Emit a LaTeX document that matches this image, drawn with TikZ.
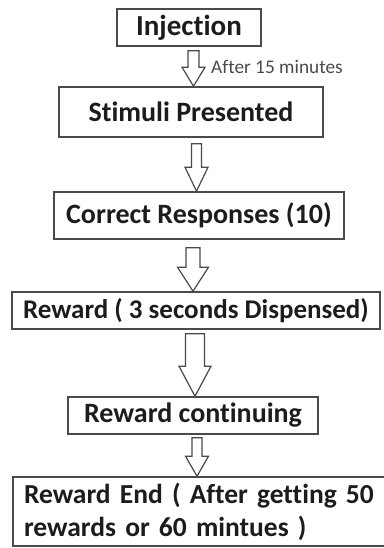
\documentclass[tikz,border=0pt]{standalone}
\usepackage{fontspec}
\setmainfont{Carlito}[RawFeature=-liga]
\usetikzlibrary{positioning,calc}

\definecolor{edgegray}{HTML}{4A4A4A}
\definecolor{inkdark}{HTML}{1C1C1C}

\begin{document}
\begin{tikzpicture}[
	node distance=90pt,
	on grid,
	x=1pt, y=1pt,
	box/.style={
		draw=edgegray,
		line width=1.6pt,
		inner sep=0pt,
		text=inkdark,
		font=\bfseries\fontsize{28}{33}\selectfont
	},
	note/.style={
		inner sep=0pt,
		text=edgegray,
		font=\fontsize{19.3}{22}\selectfont
	},
	hollow/.style args={#1/#2/#3}{
		draw=edgegray,
		line width=1.2pt,
		line join=miter,
		to path={
			let \p1=(\tikztostart), \p2=(\tikztotarget) in
			(\x2-#1,\y1) -- (\x2-#1,\y2+#3) -- (\x2-#2,\y2+#3) -- (\x2,\y2)
			-- (\x2+#2,\y2+#3) -- (\x2+#1,\y2+#3) -- (\x2+#1,\y1) -- cycle}
	}]

	\useasboundingbox (0,0) rectangle (383,-548);

	% the six steps, top to bottom
	\node[box, minimum width=144pt, minimum height=37pt, font=\bfseries\fontsize{29}{32}\selectfont] (inj) at (189,-27.5) {Injection};
	\node[box, below=84.5pt of inj, xshift=2pt, minimum width=264pt, minimum height=50pt] (stim) {Stimuli Presented};
	\node[box, below=103.5pt of stim, xshift=8pt, minimum width=290pt, minimum height=47pt] (resp) {Correct Responses (10)};
	\node[box, below=95pt of resp, xshift=-3pt, minimum width=368pt, minimum height=37pt, font=\bfseries\fontsize{27}{30}\selectfont] (rew) {Reward ( 3 seconds Dispensed)};
	\node[box, below=105pt of rew, xshift=-3pt, minimum width=250pt, minimum height=37pt] (cont) {Reward continuing};
	\node[box, below=96pt of cont, xshift=6pt, minimum height=69pt, text width=350pt, inner xsep=11pt, align=left, font=\bfseries\fontsize{27.5}{33}\selectfont] (stop) {Reward End ( After getting 50\\rewards or 60 mintues )};

	\node[note, anchor=west] (delay) at ($(inj.south)!0.5!(stim.north)+(21pt,0)$) {After 15 minutes};

	% hollow block arrows: shaft half width / head half width / head length
	\draw[hollow=5.5pt/11.5pt/19pt] ([yshift=-4pt]inj.south) to ([xshift=2.5pt]stim.north);
	\draw[hollow=5pt/11.5pt/24pt] ([yshift=-6pt]stim.south) to ([xshift=-2.5pt]resp.north);
	\draw[hollow=7pt/15.5pt/24pt] ([yshift=-8pt]resp.south) to ([xshift=-3pt]rew.north);
	\draw[hollow=9.5pt/16pt/30pt] ([yshift=-4pt]rew.south) to ([xshift=2pt]cont.north);
	\draw[hollow=5pt/11.5pt/20pt] ([yshift=-3pt]cont.south) to ([xshift=-2pt]stop.north);
\end{tikzpicture}
\end{document}
